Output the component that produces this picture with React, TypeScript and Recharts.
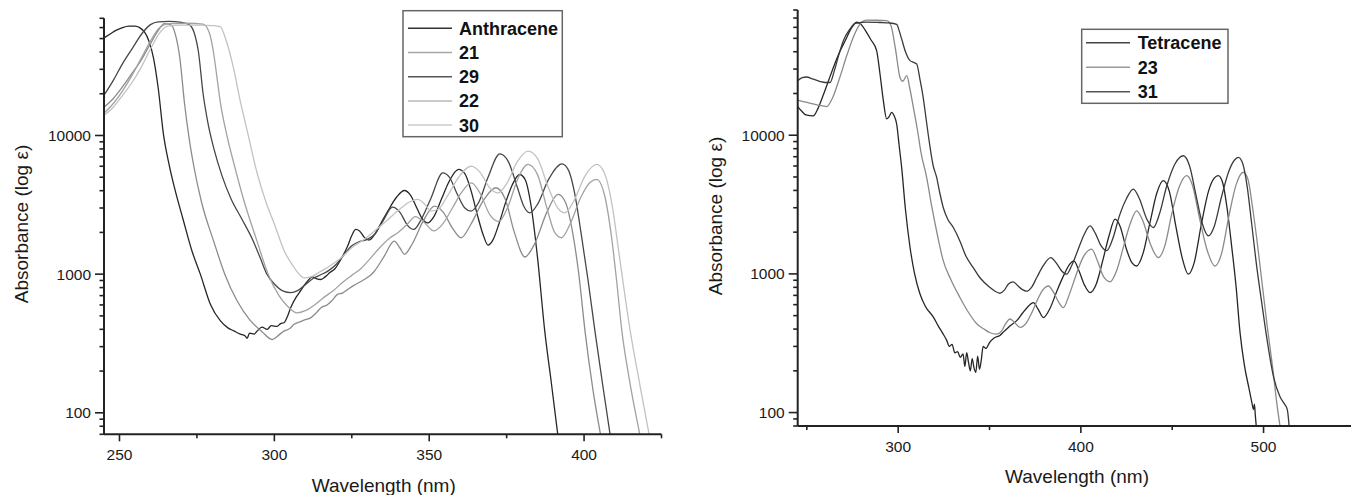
import React from 'react';
import { LineChart, Line, XAxis, YAxis } from 'recharts';

const FONT = '"Liberation Sans", Arial, Helvetica, sans-serif';

// ---------- LEFT PANEL (anthracene series) : [wavelength nm, epsilon] ----------
const anthracene: [number, number][] = [
  [245, 50600], [247, 54000], [249, 57500], [251, 60000], [253, 61400], [255, 61500], [256.5, 60000], [258, 56000],
  [259.5, 48000], [261, 36000], [262.5, 22000], [264.2, 10200], [266, 6200], [268, 4000], [270.5, 2500], [273.4, 1470],
  [276.1, 1000], [279.3, 610], [282.6, 460], [285, 410], [286.9, 390], [289, 370], [290.5, 360], [291.2, 345], [292, 375],
  [293.5, 370], [294.5, 390], [296, 415], [297.7, 400], [299, 425], [300.9, 420], [302, 440], [303.1, 446], [304.3, 500],
  [305.3, 575], [307, 680], [308.5, 760], [310.5, 880], [312.3, 955], [313.5, 930], [315, 915], [316.5, 960], [318, 1030],
  [319.5, 1090], [321.5, 1280], [323.6, 1580], [325, 1900], [326.3, 2100], [327.5, 2050], [329, 1850], [330.6, 1760],
  [332.5, 1950], [334.5, 2350], [336.6, 2840], [339.5, 3600], [342, 4010], [344, 3700], [346, 3000], [347.8, 2500],
  [349.5, 2340], [351.5, 2600], [354, 3500], [356.5, 4700], [359.5, 5690], [361.5, 5300], [363.5, 4000], [365.5, 2700],
  [367.5, 1900], [369, 1620], [370.5, 1750], [372.5, 2300], [374.5, 3200], [376.8, 4400], [379.2, 5230], [381, 4800],
  [383, 3000], [385, 1300], [387.3, 390], [389.5, 160], [391.5, 70],
];
const c21: [number, number][] = [
  [245, 16000], [248, 18500], [251, 22500], [254, 28000], [257, 35000], [260, 46000], [262.5, 57000], [264.5, 64000],
  [266.5, 63000], [268, 54000], [269.5, 36000], [271, 17000], [272.5, 9500], [274, 6000], [276.5, 3300], [280.4, 1730],
  [284, 1000], [288, 640], [292, 470], [296, 385], [299.3, 338], [301.5, 365], [303.1, 388], [305, 405], [306.3, 433],
  [308.5, 455], [310, 470], [311.7, 484], [313.5, 525], [315, 571], [317, 600], [318.5, 640], [320.4, 714], [322, 730],
  [323.5, 770], [325.7, 830], [328.5, 900], [330.5, 960], [332.3, 1050], [335.5, 1350], [338.7, 1730], [340.5, 1550],
  [342, 1390], [344.5, 1650], [348, 2400], [351.7, 3090], [354.5, 2800], [357.5, 2150], [360.3, 1830], [363.5, 2300],
  [367.5, 3400], [371.5, 4200], [374.5, 3500], [377.5, 2000], [380.9, 1330], [384, 1650], [388, 2800], [391.6, 3760],
  [394, 3300], [396.3, 2000], [398.3, 1000], [400.3, 390], [402.8, 150], [405.3, 70],
];
const c29: [number, number][] = [
  [245, 19500], [248, 25000], [251, 33000], [254, 42000], [257.7, 56000], [260, 63000], [262.5, 66000], [266, 66500],
  [270, 65500], [272.5, 63000], [274, 56000], [275.5, 40000], [277, 20000], [278.5, 12500], [280.5, 8000], [283, 5200],
  [286, 3500], [289.5, 2500], [293.2, 1730], [295.5, 1300], [297.6, 1000], [300, 850], [302.9, 754], [305.3, 735],
  [307.5, 760], [310, 840], [312.5, 930], [315, 990], [317.5, 1060], [320, 1180], [322.5, 1380], [325, 1600], [327.5, 1720],
  [330, 1780], [332.5, 1950], [335, 2400], [338.2, 3040], [340.5, 2800], [343, 2250], [345, 2100], [347.5, 2500],
  [350.5, 3500], [354.4, 5370], [356.5, 5000], [359, 3800], [361.5, 3000], [363.5, 2850], [366, 3300], [369, 5000],
  [372.8, 7360], [375.5, 6500], [378.5, 4200], [380.5, 3100], [382.5, 2770], [385, 3200], [388.5, 4800], [392.9, 6240],
  [395, 5600], [397, 3800], [399, 2000], [401.3, 900], [403.5, 390], [406, 160], [408.4, 70],
];
const c22: [number, number][] = [
  [245, 14500], [248, 17000], [251, 21000], [254, 27000], [257, 36000], [260, 48000], [263, 60000], [266, 64000],
  [272, 64500], [277, 63500], [279, 55000], [280.3, 40500], [281.5, 26000], [282.5, 17700], [284.6, 10200], [287, 6200],
  [290, 3500], [294.4, 1730], [298, 1000], [301.5, 700], [304.5, 580], [307.3, 526], [310, 545], [313, 600], [316, 680],
  [319, 760], [322, 870], [325, 980], [328, 1100], [331, 1300], [334, 1550], [337, 1800], [340, 2000], [343, 2300],
  [345.5, 2600], [348.5, 2350], [351.5, 2050], [354, 2250], [357.5, 3000], [360.5, 3900], [363.6, 4550], [366.5, 3800],
  [369.5, 2700], [372.5, 2400], [375.5, 3100], [378.5, 4800], [381.9, 6180], [385, 5200], [388, 3000], [390.5, 2000],
  [392.7, 1830], [395.5, 2300], [399, 3600], [402, 4600], [404.1, 4820], [406.5, 3800], [408.8, 1900], [410.5, 900],
  [412.2, 390], [414.5, 180], [418, 70],
];
const c30: [number, number][] = [
  [245, 14000], [248, 16000], [251, 19500], [254, 24000], [257, 31000], [260, 42000], [263, 55000], [265.5, 61500],
  [270, 62500], [276, 62500], [280, 62000], [282.5, 61000], [284.5, 48000], [286.8, 30700], [289, 17700], [291.5, 10200],
  [294.3, 5500], [297.2, 3360], [300, 2300], [303.2, 1470], [306, 1150], [308, 1000], [309.6, 940], [312, 960], [315, 1050],
  [318, 1150], [321.5, 1310], [325, 1550], [328.5, 1750], [332.3, 2040], [336, 2400], [340.9, 3000], [343.5, 3300],
  [346.3, 3460], [348.5, 3200], [350.6, 2850], [353, 2950], [356, 3700], [359.5, 5000], [363.6, 6010], [366.5, 5400],
  [369.5, 4200], [372.2, 3850], [375, 4500], [378.5, 6500], [381.9, 7710], [385, 6800], [388.5, 4200], [391.5, 3000],
  [393.8, 2770], [396.5, 3300], [400.5, 5200], [404.1, 6180], [406.5, 5400], [409, 3200], [411.5, 1300], [414.9, 390],
  [418, 160], [421, 70],
];

// ---------- RIGHT PANEL (tetracene series) ----------
const tetracene: [number, number][] = [
  [245, 16100], [247, 15000], [249.5, 14000], [253.5, 13800], [256, 15500], [259, 19500], [262, 25000], [265, 32000],
  [268, 40000], [271, 48000], [274, 58000], [277.3, 65300], [279.5, 63500], [282, 57000], [285, 49000], [288.2, 40800],
  [290, 28000], [291.9, 17700], [293.7, 13100], [295, 13600], [296.4, 14600], [297.8, 13800], [299.2, 12000],
  [300.5, 8500], [301.9, 5860], [304, 2900], [306.5, 1550], [309, 1000], [311.9, 720], [315, 580], [319.2, 490],
  [322, 420], [324, 380], [326.5, 333], [328, 300], [329.5, 310], [331, 270], [332.5, 275], [334, 250], [335.5, 265],
  [336.5, 215], [337.5, 270], [338.5, 230], [339.5, 200], [340.5, 245], [341.5, 210], [342.5, 195], [343.5, 255],
  [344.5, 205], [345.5, 240], [346.5, 300], [348, 290], [350, 320], [352.5, 345], [355.7, 360], [358, 385], [361, 420],
  [364.9, 460], [368, 520], [371, 580], [374, 621], [376.5, 560], [379.5, 484], [383, 560], [387, 760], [391, 1000],
  [394, 1180], [396.2, 1240], [399, 1050], [402, 830], [405, 733], [408.5, 850], [412, 1250], [415.5, 1900],
  [418.7, 2480], [421.5, 2200], [425, 1500], [428, 1200], [430.5, 1140], [434, 1400], [438, 2400], [441.5, 3800],
  [445.1, 4700], [448.5, 3900], [452, 2200], [455.5, 1300], [458.8, 995], [462, 1200], [466, 2300], [470, 4000],
  [473, 4900], [475.2, 5110], [477.5, 4600], [480, 3000], [482.5, 1600], [485, 800], [487.1, 380], [489.5, 220],
  [492, 150], [493.5, 120], [494.5, 105], [495, 115], [495.5, 95], [496, 80],
];
const c23: [number, number][] = [
  [245, 17900], [248, 17500], [252, 17000], [256, 16500], [260.9, 16100], [264, 18500], [268, 26000], [272, 38000],
  [276, 53000], [279, 63000], [282.8, 67600], [288, 67500], [293.7, 67000], [296, 62000], [298.5, 42000], [301, 26100],
  [302.5, 24500], [304.7, 26900], [306.3, 22000], [308.3, 15900], [310.5, 11000], [312.5, 7500], [315.6, 4950],
  [318.5, 3000], [321.5, 1900], [324.7, 1240], [329, 900], [333.8, 676], [338, 540], [343, 437], [347, 400], [350, 378],
  [353.9, 368], [356.5, 385], [358.5, 430], [361.2, 473], [363.5, 450], [366.7, 412], [370, 440], [373, 520], [376, 640],
  [379, 760], [382.2, 818], [385, 740], [388, 620], [390.4, 571], [393.5, 700], [397, 950], [401, 1300], [405.9, 1510],
  [409, 1250], [412.5, 950], [416, 877], [419.5, 1050], [423.5, 1600], [427, 2300], [430.5, 2850], [434, 2400],
  [438, 1650], [442.4, 1310], [446, 1600], [450, 2800], [454, 4300], [457.9, 5110], [461, 4400], [465, 2500], [469, 1500],
  [473.4, 1140], [477, 1400], [481, 2600], [485, 4400], [488.9, 5410], [491.5, 4800], [494, 3000], [496.5, 1700],
  [499, 900], [502, 420], [505, 210], [507.5, 110], [509, 80],
];
const c31: [number, number][] = [
  [245, 24700], [247.5, 26000], [249.9, 26300], [253, 25500], [257, 24500], [260, 24000], [262.7, 24000], [265, 29000],
  [267.5, 38000], [270, 48100], [273.5, 58000], [276.5, 64000], [282.8, 65500], [290, 65000], [295, 64500], [299.2, 63000],
  [300.5, 57000], [301.9, 49500], [304, 40000], [306.5, 34500], [308.5, 33500], [310.1, 32700], [312, 25000],
  [313.7, 18700], [314.7, 15000], [316.5, 10000], [319.2, 6000], [321, 5000], [322.5, 4000], [324.7, 3000], [327, 2500],
  [330.2, 2160], [334, 1700], [337, 1350], [341.1, 1110], [345, 930], [350.3, 797], [353, 750], [355.7, 725], [358, 760],
  [360.5, 850], [363, 877], [365.5, 820], [368, 770], [370.3, 750], [373, 800], [376, 950], [379.5, 1150], [383.5, 1310],
  [386.5, 1200], [389.5, 1050], [392.2, 995], [395, 1150], [398.5, 1500], [402, 1950], [405, 2220], [408, 1950],
  [411, 1600], [414.1, 1470], [417.5, 1800], [421, 2600], [425, 3500], [428.7, 4090], [432, 3500], [436, 2500],
  [439.7, 2160], [443, 2700], [447, 4300], [451.5, 6200], [456.1, 7110], [459.5, 6000], [463, 3700], [466.5, 2300],
  [469.8, 1880], [473, 2200], [477, 3600], [481, 5500], [484, 6600], [486.2, 6920], [488.5, 6300], [491, 4300],
  [493.5, 2300], [496, 1200], [499, 620], [502, 330], [505.5, 180], [509, 130], [511.5, 115], [513, 105], [514, 80],
];

// ---------- ticks ----------
const leftXTicks = [250, 275, 300, 325, 350, 375, 400, 425];
const leftXLabels = [250, 300, 350, 400];
const rightXTicks = [250, 300, 350, 400, 450, 500, 550];
const rightXLabels = [300, 400, 500];
const leftYTicks = [70, 80, 90, 100, 200, 300, 400, 500, 600, 700, 800, 900, 1000, 2000, 3000, 4000, 5000, 6000, 7000,
  8000, 9000, 10000, 20000, 30000, 40000, 50000, 60000, 70000];
const rightYTicks = [80, 90, 100, 200, 300, 400, 500, 600, 700, 800, 900, 1000, 2000, 3000, 4000, 5000, 6000, 7000,
  8000, 9000, 10000, 20000, 30000, 40000, 50000, 60000, 70000, 80000];
const yLabels = [100, 1000, 10000];

const leftSeries = [
  { name: 'Anthracene', data: anthracene, color: '#262626', legend: '#333333' },
  { name: '21', data: c21, color: '#8c8c8c', legend: '#a8a8a8' },
  { name: '29', data: c29, color: '#474747', legend: '#555555' },
  { name: '22', data: c22, color: '#a2a2a2', legend: '#b8b8b8' },
  { name: '30', data: c30, color: '#c2c2c2', legend: '#cccccc' },
];
const rightSeries = [
  { name: 'Tetracene', data: tetracene, color: '#262626', legend: '#444444' },
  { name: '23', data: c23, color: '#8a8a8a', legend: '#999999' },
  { name: '31', data: c31, color: '#3a3a3a', legend: '#555555' },
];

const toPoints = (arr: [number, number][]) => arr.map(([x, y]) => ({ x, y }));

const makeYTick = (labels: number[]) => (props: any) => {
  const { x, y, payload } = props;
  const v = payload.value;
  const major = labels.includes(v);
  return (
    <g>
      <line x1={x} x2={x - (major ? 9 : 4.5)} y1={y} y2={y} stroke="#222" strokeWidth={1.6} />
      {major && (
        <text x={x - 13} y={y} dy="0.36em" textAnchor="end" fontSize={15.5} fontFamily={FONT} fill="#1a1a1a">
          {v}
        </text>
      )}
    </g>
  );
};

const makeXTick = (labels: number[]) => (props: any) => {
  const { x, y, payload } = props;
  const v = payload.value;
  const major = labels.includes(v);
  return (
    <g>
      <line x1={x} x2={x} y1={y} y2={y + (major ? 7 : 4)} stroke="#222" strokeWidth={1.6} />
      {major && (
        <text x={x} y={y + 26} textAnchor="middle" fontSize={15.5} fontFamily={FONT} fill="#1a1a1a">
          {v}
        </text>
      )}
    </g>
  );
};

const axisLine = { stroke: '#222', strokeWidth: 2 };

export default function App() {
  return (
    <div style={{ position: 'absolute', left: 0, top: 0, width: 1351, height: 495, overflow: 'hidden', background: '#fff' }}>
      <div style={{ position: 'absolute', left: 0, top: 0 }}>
        <LineChart width={700} height={495} margin={{ top: 18.3, right: 38.5, bottom: 0, left: 0 }}>
          <XAxis type="number" dataKey="x" domain={[245, 425]} allowDataOverflow ticks={leftXTicks} interval={0}
            tickSize={0} tickMargin={0} tickLine={false} axisLine={axisLine} tick={makeXTick(leftXLabels)} height={60.7} />
          <YAxis type="number" scale="log" domain={[70, 70000]} allowDataOverflow ticks={leftYTicks} interval={0}
            tickSize={0} tickMargin={0} tickLine={false} axisLine={axisLine} tick={makeYTick(yLabels)} width={104} />
          {leftSeries.map((s) => (
            <Line key={s.name} data={toPoints(s.data)} dataKey="y" type="monotone" stroke={s.color} strokeWidth={1.3}
              dot={false} activeDot={false} isAnimationActive={false} />
          ))}
        </LineChart>
      </div>
      <div style={{ position: 'absolute', left: 700, top: 0 }}>
        <LineChart width={660} height={495} margin={{ top: 10, right: 5.1, bottom: 0, left: 0 }}>
          <XAxis type="number" dataKey="x" domain={[245, 550]} allowDataOverflow ticks={rightXTicks} interval={0}
            tickSize={0} tickMargin={0} tickLine={false} axisLine={axisLine} tick={makeXTick(rightXLabels)} height={69} />
          <YAxis type="number" scale="log" domain={[80, 80000]} allowDataOverflow ticks={rightYTicks} interval={0}
            tickSize={0} tickMargin={0} tickLine={false} axisLine={axisLine} tick={makeYTick(yLabels)} width={97.7} />
          {rightSeries.map((s) => (
            <Line key={s.name} data={toPoints(s.data)} dataKey="y" type="monotone" stroke={s.color} strokeWidth={1.3}
              dot={false} activeDot={false} isAnimationActive={false} />
          ))}
        </LineChart>
      </div>
      <svg width={1351} height={495} style={{ position: 'absolute', left: 0, top: 0, pointerEvents: 'none' }}>
        <g fontFamily={FONT} fill="#1a1a1a">
          <text x={383.8} y={491.7} textAnchor="middle" fontSize={19}>Wavelength (nm)</text>
          <text x={1077} y={483.3} textAnchor="middle" fontSize={19}>Wavelength (nm)</text>
          <text transform="translate(28,224) rotate(-90)" textAnchor="middle" fontSize={19}>Absorbance (log ε)</text>
          <text transform="translate(722,216) rotate(-90)" textAnchor="middle" fontSize={19}>Absorbance (log ε)</text>
        </g>
        <rect x={403} y={10.7} width={159.3} height={126} fill="#fff" stroke="#666" strokeWidth={1.5} />
        {leftSeries.map((s, i) => {
          const cy = 28.3 + i * 24.2;
          return (
            <g key={s.name}>
              <line x1={408} x2={452} y1={cy} y2={cy} stroke={s.legend} strokeWidth={1.5} />
              <text x={459} y={cy + 6.4} fontSize={18} fontWeight="bold" fontFamily={FONT} fill="#111">{s.name}</text>
            </g>
          );
        })}
        <rect x={1081.7} y={29.3} width={146.3} height={74} fill="#fff" stroke="#666" strokeWidth={1.5} />
        {rightSeries.map((s, i) => {
          const cy = 42.7 + i * 24.5;
          return (
            <g key={s.name}>
              <line x1={1086} x2={1130} y1={cy} y2={cy} stroke={s.legend} strokeWidth={1.5} />
              <text x={1137.7} y={cy + 6.4} fontSize={18} fontWeight="bold" fontFamily={FONT} fill="#111">{s.name}</text>
            </g>
          );
        })}
      </svg>
    </div>
  );
}
